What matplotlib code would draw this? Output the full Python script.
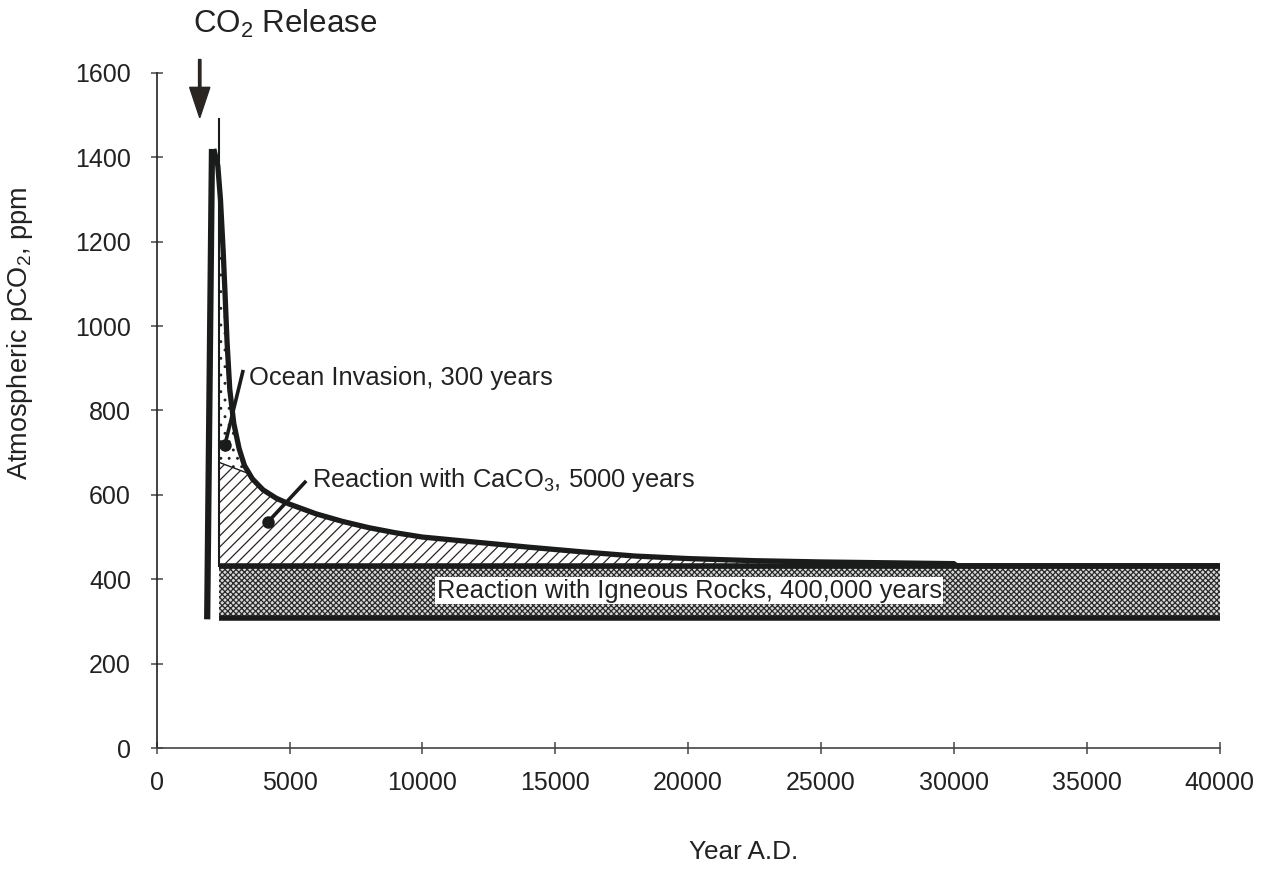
import numpy as np
import matplotlib
matplotlib.use("Agg")
import matplotlib.pyplot as plt

plt.rcParams['font.family'] = ['Liberation Sans', 'DejaVu Sans']
plt.rcParams['mathtext.default'] = 'regular'
plt.rcParams['hatch.linewidth'] = 0.9

# ---- data ----
spike_years = [1900, 2080]
spike_ppm = [305, 1420]

decay_years = [2150, 2300, 2400, 2500, 2570, 2650, 2750, 2900, 3100, 3300, 3600,
               4000, 4500, 5000, 6000, 7000, 8000, 9000, 10000, 12000, 14000,
               16000, 18000, 20000, 22500, 25000, 30000, 30100, 40000]
decay_ppm = [1420, 1380, 1300, 1180, 1080, 960, 850, 770, 710, 670, 638,
             612, 592, 578, 555, 537, 522, 510, 500, 488, 476,
             465, 455, 449, 444, 441, 437, 432, 432]

ocean_start_year = 2350
ocean_top_ppm = 1492
wedge_years = [2350, 3400]
wedge_ppm = [677, 652]
igneous_top = 432
igneous_bottom = 309
end_year = 40000

arrow_year = 1620
arrow_ppm = [1632, 1494]

xticks = list(range(0, 40001, 5000))
yticks = list(range(0, 1601, 200))

ocean_text = ("Ocean Invasion, 300 years", 3470, 878)
ocean_ptr = ([3240, 2570], [892, 719])
caco3_text = ("Reaction with CaCO$_3$, 5000 years", 5850, 636)
caco3_ptr = ([5580, 4190], [630, 536])
igneous_text = ("Reaction with Igneous Rocks, 400,000 years", 20040, 373)

# ---- figure ----
fig = plt.figure(figsize=(12.69, 8.71), dpi=100)
ax = fig.add_axes([156.7/1269, 1-748/871, (1219.5-156.7)/1269, (748-73)/871])
ax.set_xlim(0, 40000)
ax.set_ylim(0, 1600)

dark = '#1a1c1c'

# Igneous band
ax.fill_between([ocean_start_year, end_year], igneous_bottom, igneous_top,
                facecolor='#d8d8d8', edgecolor='#2a2a2a', hatch='xxxxxx',
                linewidth=0, zorder=1)

# CaCO3 region
xg = np.linspace(ocean_start_year, end_year, 3000)
curve = np.interp(xg, decay_years, decay_ppm)
wedge = np.interp(xg, wedge_years, wedge_ppm)
upper = np.where(xg < wedge_years[1], np.minimum(wedge, curve), curve)
ax.fill_between(xg, igneous_top, upper, facecolor='white', edgecolor='#2b2320',
                hatch='///', linewidth=0, zorder=1)

# Ocean invasion region (dotted)
xo = np.linspace(ocean_start_year, wedge_years[1], 300)
co = np.interp(xo, decay_years, decay_ppm)
wo = np.interp(xo, wedge_years, wedge_ppm)
ax.fill_between(xo, wo, co, where=co > wo, facecolor='white', edgecolor='#222222',
                hatch='..', linewidth=0, zorder=1)
ax.plot(wedge_years, wedge_ppm, color=dark, lw=1.0, zorder=2)

# band boundary lines
ax.plot([ocean_start_year, end_year], [igneous_top, igneous_top], color=dark,
        lw=4.0, solid_capstyle='butt', zorder=3)
ax.plot([ocean_start_year, end_year], [igneous_bottom, igneous_bottom], color=dark,
        lw=4.0, solid_capstyle='butt', zorder=3)

# thin vertical line
ax.plot([ocean_start_year, ocean_start_year], [igneous_top, ocean_top_ppm],
        color=dark, lw=1.5, zorder=3)

# spike and decay
ax.plot(spike_years, spike_ppm, color=dark, lw=4.5, solid_capstyle='butt', zorder=4)
ax.plot(decay_years, decay_ppm, color=dark, lw=3.8, solid_capstyle='butt',
        solid_joinstyle='round', zorder=4)

# arrow
ax.arrow(arrow_year, arrow_ppm[0], 0, arrow_ppm[1]-arrow_ppm[0], width=90,
         head_width=760, head_length=72, length_includes_head=True,
         color='#2b2522', clip_on=False, zorder=5)

# annotations
ax.plot(ocean_ptr[0], ocean_ptr[1], color=dark, lw=2.6, zorder=6)
ax.plot(ocean_ptr[0][1], ocean_ptr[1][1], 'o', color=dark, ms=8, zorder=6)
ax.plot(caco3_ptr[0], caco3_ptr[1], color=dark, lw=2.6, zorder=6)
ax.plot(caco3_ptr[0][1], caco3_ptr[1][1], 'o', color=dark, ms=8, zorder=6)

fs = 18.4
ax.text(ocean_text[1], ocean_text[2], ocean_text[0], fontsize=fs, color='#222222',
        ha='left', va='center', zorder=7)
ax.text(caco3_text[1], caco3_text[2], caco3_text[0], fontsize=fs, color='#222222',
        ha='left', va='center', zorder=7)
ax.text(igneous_text[1], igneous_text[2], igneous_text[0], fontsize=fs, color='#222222',
        ha='center', va='center', zorder=7,
        bbox=dict(facecolor='white', edgecolor='none', pad=1.0))

# axes styling
for s in ['top', 'right']:
    ax.spines[s].set_visible(False)
ax.spines['left'].set_color('#222222')
ax.spines['bottom'].set_color('#444444')
ax.spines['left'].set_linewidth(1.2)
ax.spines['bottom'].set_linewidth(1.2)
ax.set_xticks(xticks)
ax.set_yticks(yticks)
ax.tick_params(axis='both', direction='inout', length=9, width=1.2, color='#555555',
               labelsize=18, labelcolor='#222222')
ax.tick_params(axis='x', pad=12)
ax.tick_params(axis='y', pad=14)

fig.text(193/1269, 1-24/871, 'CO$_2$ Release', fontsize=22.5, color='#222222',
         ha='left', va='center')
fig.text(20/1269, 1-333/871, 'Atmospheric pCO$_2$, ppm', fontsize=19.5, color='#222222',
         ha='center', va='center', rotation=90)
fig.text(744/1269, 1-852/871, 'Year A.D.', fontsize=18.8, color='#222222',
         ha='center', va='center')

fig.savefig('out.png', dpi=100)
